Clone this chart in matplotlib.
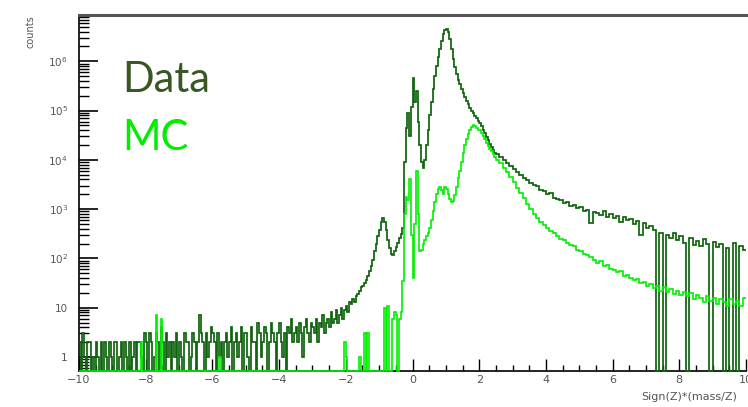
import numpy as np
import matplotlib
matplotlib.use("Agg")
import matplotlib.pyplot as plt
from matplotlib.ticker import LogLocator, NullFormatter, MultipleLocator, FixedLocator

# bin layout: 0.05 bins up to 2.5, coarser 0.1 bins for the right tail
edges = np.concatenate([
    np.round(np.arange(-10.0, 2.5, 0.05), 3),
    np.round(np.arange(2.5, 10.0001, 0.1), 3),
])

# Data counts, -10 .. -1 (0.05 bins)
data_neg = [2, 0, 3, 1, 0, 2, 2, 0, 1, 0,
            2, 1, 0, 2, 0, 2, 1, 0, 2, 1,
            0, 2, 2, 0, 1, 2, 0, 2, 1, 0,
            2, 0, 1, 2, 0, 2, 2, 1, 0, 3,
            2, 0, 3, 2, 0, 1, 3, 2, 0, 4,
            2, 0, 3, 1, 2, 0, 2, 1, 3, 0,
            2, 1, 0, 3, 2, 2, 0, 1, 3, 2,
            0, 2, 7, 3, 2, 0, 3, 1, 2, 4,
            3, 2, 0, 3, 1, 2, 0, 2, 3, 1,
            2, 4, 0, 2, 3, 1, 2, 4, 0, 3,
            3, 1, 0, 4, 2, 2, 0, 5, 3, 1,
            2, 4, 3, 0, 2, 5, 3, 2, 0, 3,
            5, 2, 1, 3, 0, 4, 3, 6, 2, 3,
            4, 2, 5, 3, 1, 4, 6, 3, 2, 5,
            4, 3, 6, 2, 5, 4, 7, 3, 5, 6,
            4, 8, 5, 6, 9, 5, 7, 10, 6, 9,
            11, 8, 13, 12, 15, 13, 17, 19, 22, 26,
            28, 32, 37, 45, 55, 70, 95, 140, 200, 280]
# Data counts, -1 .. 2.5 (0.05 bins)
data_mid = [380, 560, 650, 560, 380, 240, 160, 125, 118, 140,
            170, 210, 260, 320, 420, 9000, 45000, 90000, 30000, 120000,
            450000, 150000, 250000, 60000, 20000, 9000, 7000, 10000, 20000, 40000,
            80000, 150000, 280000, 500000, 800000, 1.2e6, 1.8e6, 2.6e6, 3.5e6, 4.3e6,
            4.6e6, 4.0e6, 2.8e6, 1.8e6, 1.1e6, 7.5e5, 5.5e5, 4.2e5, 3.4e5, 2.8e5,
            2.3e5, 1.9e5, 1.6e5, 1.35e5, 1.15e5, 1.0e5, 8.8e4, 7.8e4, 7.0e4, 6.2e4,
            5.5e4, 4.8e4, 4.1e4, 3.5e4, 2.9e4, 2.5e4, 2.1e4, 1.8e4, 1.6e4, 1.4e4]
# Data counts, 2.5 .. 10 (0.1 bins)
data_pos = [13000, 11500, 10000, 8800, 7600, 6500, 5600, 5000, 4300, 3900,
            3400, 3100, 2900, 2400, 2300, 2000, 2100, 1700, 1600, 1500,
            1350, 1400, 1150, 1200, 1050, 1100, 900, 950, 520, 880,
            820, 760, 900, 700, 780, 650, 720, 560, 700, 600,
            640, 500, 580, 300, 520, 420, 460, 380, 0, 330,
            0, 300, 260, 330, 240, 280, 210, 0, 260, 190,
            230, 180, 250, 200, 0, 220, 170, 200, 0, 160,
            0, 210, 0, 180, 150]

# MC counts, same binning
mc_neg = [0, 0, 0, 0, 0, 0, 0, 0, 0, 0,
          0, 0, 0, 0, 0, 0, 0, 0, 0, 0,
          0, 0, 0, 0, 0, 0, 0, 0, 0, 0,
          0, 0, 0, 0, 0, 0, 0, 2, 0, 0,
          0, 0, 0, 0, 0, 0, 7, 0, 0, 6,
          0, 0, 0, 0, 0, 0, 0, 0, 0, 0,
          0, 0, 0, 0, 0, 0, 0, 0, 0, 0,
          0, 0, 0, 0, 0, 0, 0, 0, 0, 0,
          0, 0, 0, 0, 1, 0, 0, 0, 0, 0,
          0, 0, 0, 0, 0, 0, 0, 0, 0, 0,
          0, 0, 0, 0, 0, 0, 0, 0, 0, 0,
          0, 0, 0, 0, 0, 0, 0, 0, 0, 0,
          0, 0, 0, 0, 0, 0, 0, 0, 0, 0,
          0, 0, 0, 0, 0, 0, 0, 0, 0, 0,
          0, 0, 0, 0, 0, 0, 0, 0, 0, 0,
          0, 0, 0, 0, 0, 0, 0, 0, 0, 2,
          1, 0, 0, 0, 0, 0, 0, 0, 1, 0,
          0, 3, 0, 3, 0, 0, 0, 0, 0, 0]
mc_mid = [0, 0, 0, 10, 0, 11, 0, 0, 6, 8,
          7, 0, 6, 8, 35, 800, 1800, 1500, 4000, 300,
          40, 500, 6000, 800, 140, 150, 200, 240, 280, 330,
          420, 600, 900, 1400, 2000, 2600, 2800, 2400, 2000, 2800,
          2600, 2000, 1600, 1400, 1450, 1900, 2800, 4200, 6000, 9000,
          14000, 20000, 27000, 34000, 41000, 47000, 50000, 49000, 45000, 40000,
          40000, 35000, 30000, 26000, 22500, 19500, 17000, 15000, 13000, 11500]
mc_pos = [10000, 8500, 7000, 5600, 4500, 3500, 2700, 2100, 1650, 1300,
          1000, 800, 660, 560, 480, 410, 360, 330, 280, 250,
          240, 210, 190, 175, 150, 140, 125, 115, 105, 95,
          80, 88, 70, 74, 62, 58, 52, 55, 44, 47,
          40, 36, 38, 32, 34, 28, 30, 25, 27, 22,
          26, 21, 24, 19, 22, 18, 21, 17, 20, 15,
          18, 16, 13, 17, 14, 16, 12, 15, 13, 11,
          15, 12, 14, 11, 16]

x_ticks = [-10, -8, -6, -4, -2, 0, 2, 4, 6, 8, 10]

data_counts = np.array(data_neg + data_mid + data_pos, dtype=float)
mc_counts = np.array(mc_neg + mc_mid + mc_pos, dtype=float)
assert len(data_counts) == len(edges) - 1
assert len(mc_counts) == len(edges) - 1

ymin, ymax = 0.52, 8.7e6
# empty bins are drawn along the bottom of the frame, like ROOT does
data_draw = np.where(data_counts > 0, data_counts, ymin)
mc_draw = np.where(mc_counts > 0, mc_counts, ymin)

data_color = '#0f640f'
mc_color = '#00f000'

fig = plt.figure(figsize=(7.48, 4.07), dpi=100)
ax = fig.add_axes([79 / 748, 36 / 407, 667 / 748, 356 / 407])

ax.stairs(data_draw, edges, color=data_color, lw=1.25, baseline=None,
          zorder=3, clip_on=False)
ax.stairs(mc_draw, edges, color=mc_color, lw=1.2, baseline=None,
          zorder=3, clip_on=False)

ax.set_yscale('log')
ax.set_xlim(-10, 10)
ax.set_ylim(ymin, ymax)

ax.yaxis.set_minor_locator(LogLocator(base=10, subs=np.arange(2, 10), numticks=12))
ax.yaxis.set_minor_formatter(NullFormatter())
ax.set_yticks([1, 10, 100, 1e3, 1e4, 1e5, 1e6])
ax.set_yticklabels(['1', '10', '$10^{2}$', '$10^{3}$', '$10^{4}$', '$10^{5}$', '$10^{6}$'])

ax.xaxis.set_major_locator(FixedLocator(x_ticks))
ax.xaxis.set_minor_locator(MultipleLocator(0.5))
ax.set_xticklabels([str(t).replace('-', '\u2212') for t in x_ticks])

ax.tick_params(axis='y', which='major', direction='in', length=14, width=1.2,
               pad=8, labelsize=7.5, labelcolor='#555555', right=False)
ax.tick_params(axis='y', which='minor', direction='in', length=7, width=1.0, right=False)
ax.tick_params(axis='x', which='major', direction='in', length=8.5, width=1.0,
               pad=3, labelsize=8, labelcolor='#555555', top=False)
ax.tick_params(axis='x', which='minor', direction='in', length=4.5, width=1.0, top=False)

ax.spines['right'].set_visible(False)
ax.spines['top'].set_color('#555555')
ax.spines['top'].set_linewidth(2.2)
ax.spines['left'].set_linewidth(1.2)
ax.spines['bottom'].set_linewidth(1.2)

fig.text(641 / 748, 1 - 397 / 407, 'Sign(Z)*(mass/Z)', ha='left', va='center',
         fontsize=8, color='#555555')
fig.text(30 / 748, 1 - 15 / 407, 'counts', rotation=90, ha='center', va='top',
         fontsize=7, color='#555555')

fig.text(122 / 748, 1 - 92 / 407, 'Data', ha='left', va='baseline',
         fontsize=30, family='Lato', color='#385723')
fig.text(122 / 748, 1 - 150 / 407, 'MC', ha='left', va='baseline',
         fontsize=30, family='Lato', color='#00ee00')

fig.savefig('out.png', dpi=100)
